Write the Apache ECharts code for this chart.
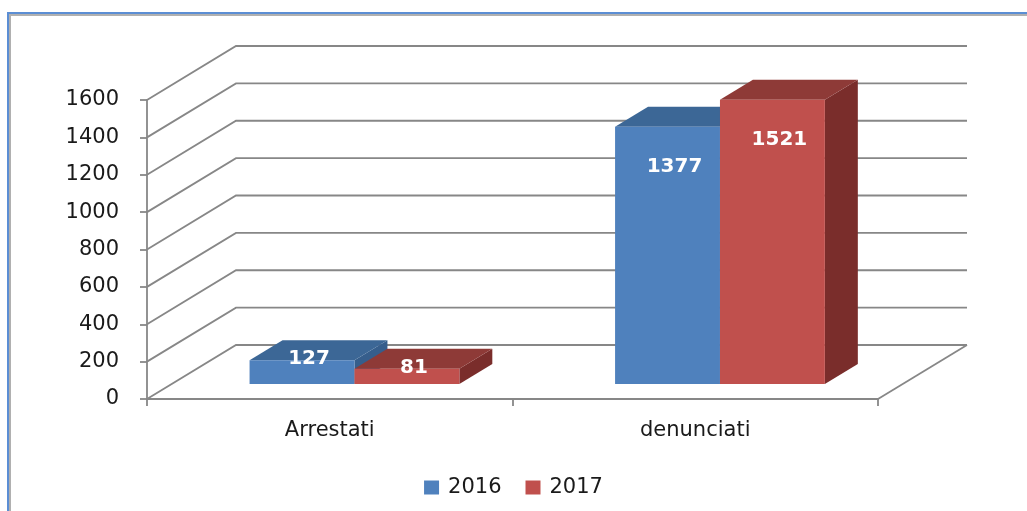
<!DOCTYPE html>
<html>
<head>
<meta charset="utf-8">
<script src="https://cdn.jsdelivr.net/npm/echarts@6/dist/echarts.min.js"></script>
<style>
  html, body { margin: 0; padding: 0; background: #fff; }
  #chart { width: 1027px; height: 511px; }
</style>
</head>
<body>
<div id="chart"></div>
<script>
const categories = ['Arrestati', 'denunciati'];
const years = ['2016', '2017'];
const values2016 = [127, 1377];
const values2017 = [81, 1521];
const yTicks = [0, 200, 400, 600, 800, 1000, 1200, 1400, 1600];

// oblique depth of the floor / walls and of the bars
const DEPTH = [89, -54];
const BAR_FRONT = 15 / 54;
const BAR_BACK = 35 / 54;
const BAR_W = 0.287;

const faces = [
    { front: '#4F81BD', top: '#3C6796', side: '#365E8C' },
    { front: '#C0504D', top: '#8E3A37', side: '#7A2D2B' }
];
const font = '"DejaVu Sans", sans-serif';
const gridColor = '#878787';

const chartDom = document.getElementById('chart');
const chart = echarts.init(chartDom, null, { renderer: 'canvas' });

const wallsRender = (params, api) => {
    const cs = params.coordSys;
    const v = api.value(0);
    const y = api.coord([0, v])[1];
    const x0 = cs.x, x1 = cs.x + cs.width;
    const children = [{
        type: 'polyline',
        shape: { points: [[x0, y], [x0 + DEPTH[0], y + DEPTH[1]], [x1 + DEPTH[0], y + DEPTH[1]]] },
        style: { stroke: gridColor, lineWidth: 1.8, fill: null }
    }];
    if (v === 0) {
        children.push({
            type: 'line',
            shape: { x1: x1, y1: y, x2: x1 + DEPTH[0], y2: y + DEPTH[1] },
            style: { stroke: gridColor, lineWidth: 1.8 }
        });
    }
    return { type: 'group', children: children };
};

const barRender = (idx) => (params, api) => {
    const cat = api.value(0);
    const val = api.value(1);
    const band = api.size([1, 0])[0];
    const base = api.coord([cat, 0]);
    const topP = api.coord([cat, val]);
    const fx = DEPTH[0] * BAR_FRONT, fy = DEPTH[1] * BAR_FRONT;
    const dx = DEPTH[0] * (BAR_BACK - BAR_FRONT), dy = DEPTH[1] * (BAR_BACK - BAR_FRONT);
    const w = band * BAR_W;
    const left = base[0] + fx + (idx === 0 ? -w : 0);
    const right = left + w;
    const bottom = base[1] + fy;
    const top = topP[1] + fy;
    const c = faces[idx];
    const h = bottom - top;
    const labelY = h > 60 ? top + 40 : top - 1;
    return {
        type: 'group',
        children: [
            {
                type: 'polygon',
                shape: { points: [[right, top], [right + dx, top + dy], [right + dx, bottom + dy], [right, bottom]] },
                style: { fill: c.side }
            },
            {
                type: 'polygon',
                shape: { points: [[left, top], [left + dx, top + dy], [right + dx, top + dy], [right, top]] },
                style: { fill: c.top }
            },
            {
                type: 'rect',
                shape: { x: left, y: top, width: w, height: h },
                style: { fill: c.front }
            },
            {
                type: 'text',
                style: {
                    text: String(val), x: (left + right) / 2 + 7, y: labelY,
                    fill: '#fff', font: 'bold 20px ' + font,
                    align: 'center', verticalAlign: 'middle'
                },
                z2: 10
            }
        ]
    };
};

const option = {
    animation: false,
    grid: { left: 147, right: 149, top: 100, bottom: 112 },
    legend: {
        data: years,
        top: 472,
        left: 'center',
        itemWidth: 15,
        itemHeight: 14,
        itemGap: 24,
        icon: 'rect',
        textStyle: { fontSize: 21, color: '#1a1a1a', fontFamily: font, padding: [0, 0, 0, 4] }
    },
    xAxis: {
        type: 'category',
        data: categories,
        axisLine: { lineStyle: { color: gridColor, width: 1.8 } },
        axisTick: { show: true, length: 7, lineStyle: { color: gridColor, width: 1.8 } },
        axisLabel: { margin: 21, fontSize: 21, color: '#1a1a1a', fontFamily: font },
        splitLine: { show: false }
    },
    yAxis: {
        type: 'value',
        min: 0,
        max: 1600,
        interval: 200,
        axisLine: { show: true, lineStyle: { color: gridColor, width: 1.8 } },
        axisTick: { show: true, length: 7, lineStyle: { color: gridColor, width: 1.8 } },
        axisLabel: { margin: 28, fontSize: 21, color: '#1a1a1a', fontFamily: font, formatter: v => String(v) },
        splitLine: { show: false }
    },
    graphic: [
        { type: 'rect', shape: { x: 9, y: 14, width: 1100, height: 2 }, style: { fill: '#B0B0B0' }, silent: true },
        { type: 'rect', shape: { x: 9, y: 14, width: 2, height: 600 }, style: { fill: '#B0B0B0' }, silent: true },
        { type: 'rect', shape: { x: 7, y: 12, width: 1100, height: 2 }, style: { fill: '#5B8ED4' }, silent: true },
        { type: 'rect', shape: { x: 7, y: 12, width: 2, height: 600 }, style: { fill: '#5B8ED4' }, silent: true }
    ],
    series: [
        {
            type: 'custom',
            name: 'walls',
            renderItem: wallsRender,
            data: yTicks.map(v => [v]),
            encode: { y: 0 },
            silent: true,
            z: 1
        },
        {
            type: 'custom',
            name: years[0],
            renderItem: barRender(0),
            itemStyle: { color: faces[0].front },
            data: values2016.map((v, i) => [i, v]),
            encode: { x: 0, y: 1 },
            z: 3
        },
        {
            type: 'custom',
            name: years[1],
            renderItem: barRender(1),
            itemStyle: { color: faces[1].front },
            data: values2017.map((v, i) => [i, v]),
            encode: { x: 0, y: 1 },
            z: 4
        }
    ]
};

option && chart.setOption(option);
</script>
</body>
</html>
